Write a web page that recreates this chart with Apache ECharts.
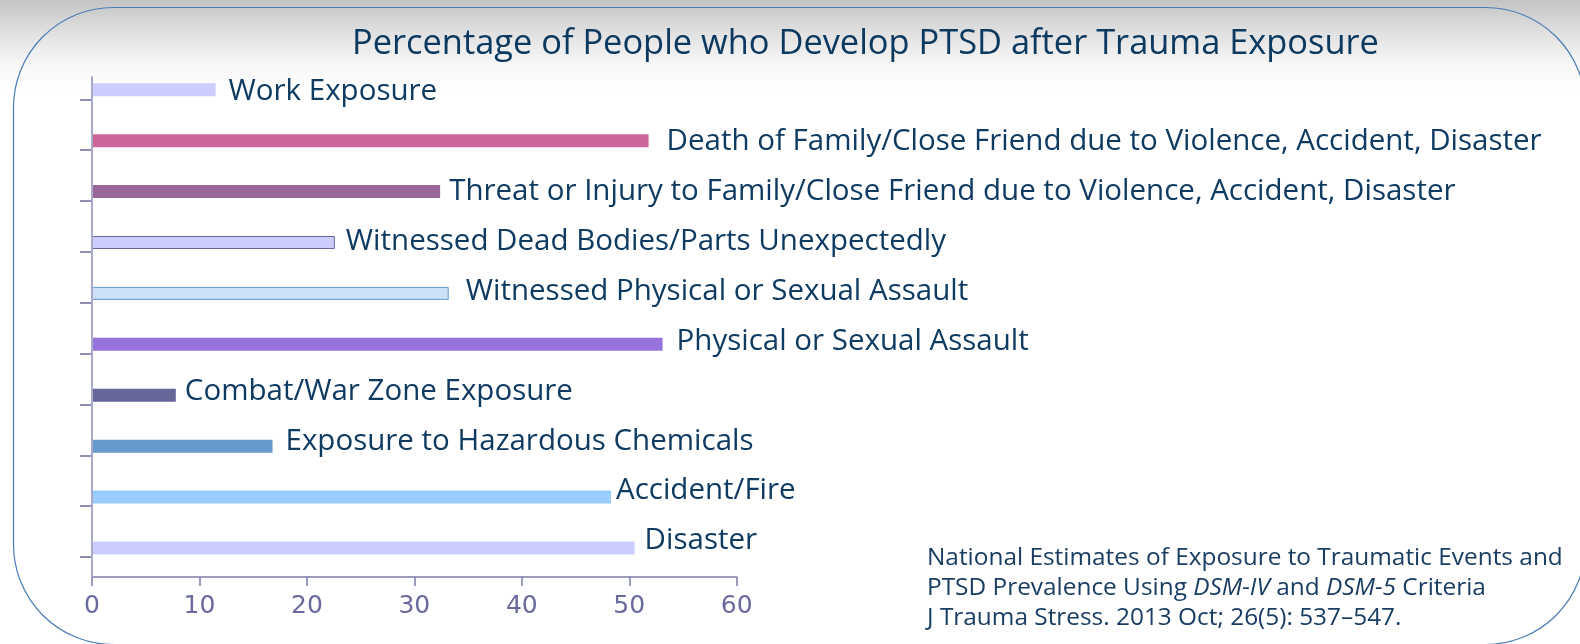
<!DOCTYPE html>
<html>
<head>
<meta charset="utf-8">
<style>
    html, body { margin: 0; padding: 0; }
    #main { width: 1580px; height: 644px; }
</style>
<script src="https://cdn.jsdelivr.net/npm/echarts@6/dist/echarts.min.js"></script>
</head>
<body>
<div id="main"></div>
<script>
// 分类 (从上到下)
const categories = [
    'Work Exposure',
    'Death of Family/Close Friend due to Violence, Accident, Disaster',
    'Threat or Injury to Family/Close Friend due to Violence, Accident, Disaster',
    'Witnessed Dead Bodies/Parts Unexpectedly',
    'Witnessed Physical or Sexual Assault',
    'Physical or Sexual Assault',
    'Combat/War Zone Exposure',
    'Exposure to Hazardous Chemicals',
    'Accident/Fire',
    'Disaster'
];
// PTSD 百分比
const values = [11.5, 51.8, 32.4, 22.6, 33.2, 53.1, 7.8, 16.8, 48.3, 50.5];
// 柱子颜色 / 边框
const barColors = ['#ccccff', '#cc6699', '#996699', '#ccccff', '#cce0f8', '#9673dc', '#666699', '#6699cc', '#99ccff', '#ccccff'];
const barBorders = [null, null, null, '#666699', '#6699cc', null, null, null, null, null];
// 标签位置微调
const labelGaps = [13, 18, 9, 11, 17, 14, 9, 13, 5, 10];
const labelShift = [2, 1, 0, -1, -2, -3, -4, -5, -6, -7];
const xTicks = [0, 60, 10];   // min, max, interval

(function () {
    let myChart = echarts.init(document.getElementById('main'));
    const textColor = '#0f3b63';
    const font = '"Open Sans", "Noto Sans", sans-serif';

    let option = {
        animation: false,
        backgroundColor: new echarts.graphic.LinearGradient(0, 0, 0, 1, [
            { offset: 0, color: '#c4c4c4' },
            { offset: 0.05, color: '#e0e0e0' },
            { offset: 0.1, color: '#f7f7f7' },
            { offset: 0.14, color: '#ffffff' },
            { offset: 1, color: '#ffffff' }
        ]),
        title: {
            text: 'Percentage of People who Develop PTSD after Trauma Exposure',
            left: 347,
            top: 22,
            textStyle: {
                color: '#0b3960',
                fontFamily: font,
                fontWeight: 'normal',
                fontSize: 34.4
            }
        },
        grid: [
            // 柱子
            { left: 92, top: 64.3, width: 644.7, height: 509.1 },
            // 左侧刻度
            { left: 92, top: 99.3, width: 644.7, height: 457.7 },
            // 左侧轴线
            { left: 92, top: 77, width: 644.7, height: 500 }
        ],
        xAxis: [{
            type: 'value',
            gridIndex: 0,
            min: xTicks[0],
            max: xTicks[1],
            interval: xTicks[2],
            offset: 3.6,
            axisLine: { show: true, lineStyle: { color: '#7b7bab', width: 1.5 } },
            axisTick: { show: true, length: 9, lineStyle: { color: '#7b7bab', width: 1.5 } },
            axisLabel: {
                color: '#6a6a9e',
                fontFamily: '"DejaVu Sans", Verdana, sans-serif',
                fontSize: 25,
                margin: 17
            },
            splitLine: { show: false }
        }, {
            type: 'value', gridIndex: 1, show: false
        }, {
            type: 'value', gridIndex: 2, show: false
        }],
        yAxis: [{
            type: 'category',
            gridIndex: 0,
            inverse: true,
            data: categories,
            axisLine: { show: false },
            axisTick: { show: false },
            axisLabel: { show: false }
        }, {
            type: 'category',
            gridIndex: 1,
            inverse: true,
            boundaryGap: false,
            data: categories,
            axisLine: { show: false },
            axisTick: { show: true, length: 12, lineStyle: { color: '#6b6b9b', width: 1.5 } },
            axisLabel: { show: false }
        }, {
            type: 'value',
            gridIndex: 2,
            z: 5,
            axisLine: { show: true, lineStyle: { color: '#a9a9cc', width: 2 } },
            axisTick: { show: false },
            axisLabel: { show: false },
            splitLine: { show: false }
        }],
        graphic: [{
            type: 'rect',
            z: -10,
            silent: true,
            shape: { x: 13.5, y: 7.5, width: 1572, height: 637, r: 100 },
            style: { fill: 'none', stroke: '#4a7db5', lineWidth: 1.2 }
        }, {
            type: 'text',
            z: 10,
            left: 927,
            top: 543,
            style: {
                text: 'National Estimates of Exposure to Traumatic Events and\nPTSD Prevalence Using {i|DSM-IV} and {i|DSM-5} Criteria\nJ Trauma Stress. 2013 Oct; 26(5): 537–547.',
                fill: '#1a3d63',
                fontFamily: font,
                fontSize: 24.4,
                lineHeight: 30,
                rich: {
                    i: { fontStyle: 'italic', fontFamily: font, fontSize: 24.4, lineHeight: 30, fill: '#1a3d63' }
                }
            }
        }],
        series: [{
            type: 'bar',
            xAxisIndex: 0,
            yAxisIndex: 0,
            barWidth: 13,
            data: values.map(function (v, i) {
                return {
                    value: v,
                    itemStyle: {
                        color: barColors[i],
                        borderColor: barBorders[i] || barColors[i],
                        borderWidth: barBorders[i] ? 1 : 0
                    },
                    label: { distance: labelGaps[i], offset: [0, labelShift[i]] }
                };
            }),
            label: {
                show: true,
                position: 'right',
                formatter: '{b}',
                color: textColor,
                fontFamily: font,
                fontSize: 29.5
            }
        }]
    };
    myChart.setOption(option);
    window.addEventListener('resize', function () {
        myChart.resize();
    });
})();
</script>
</body>
</html>
